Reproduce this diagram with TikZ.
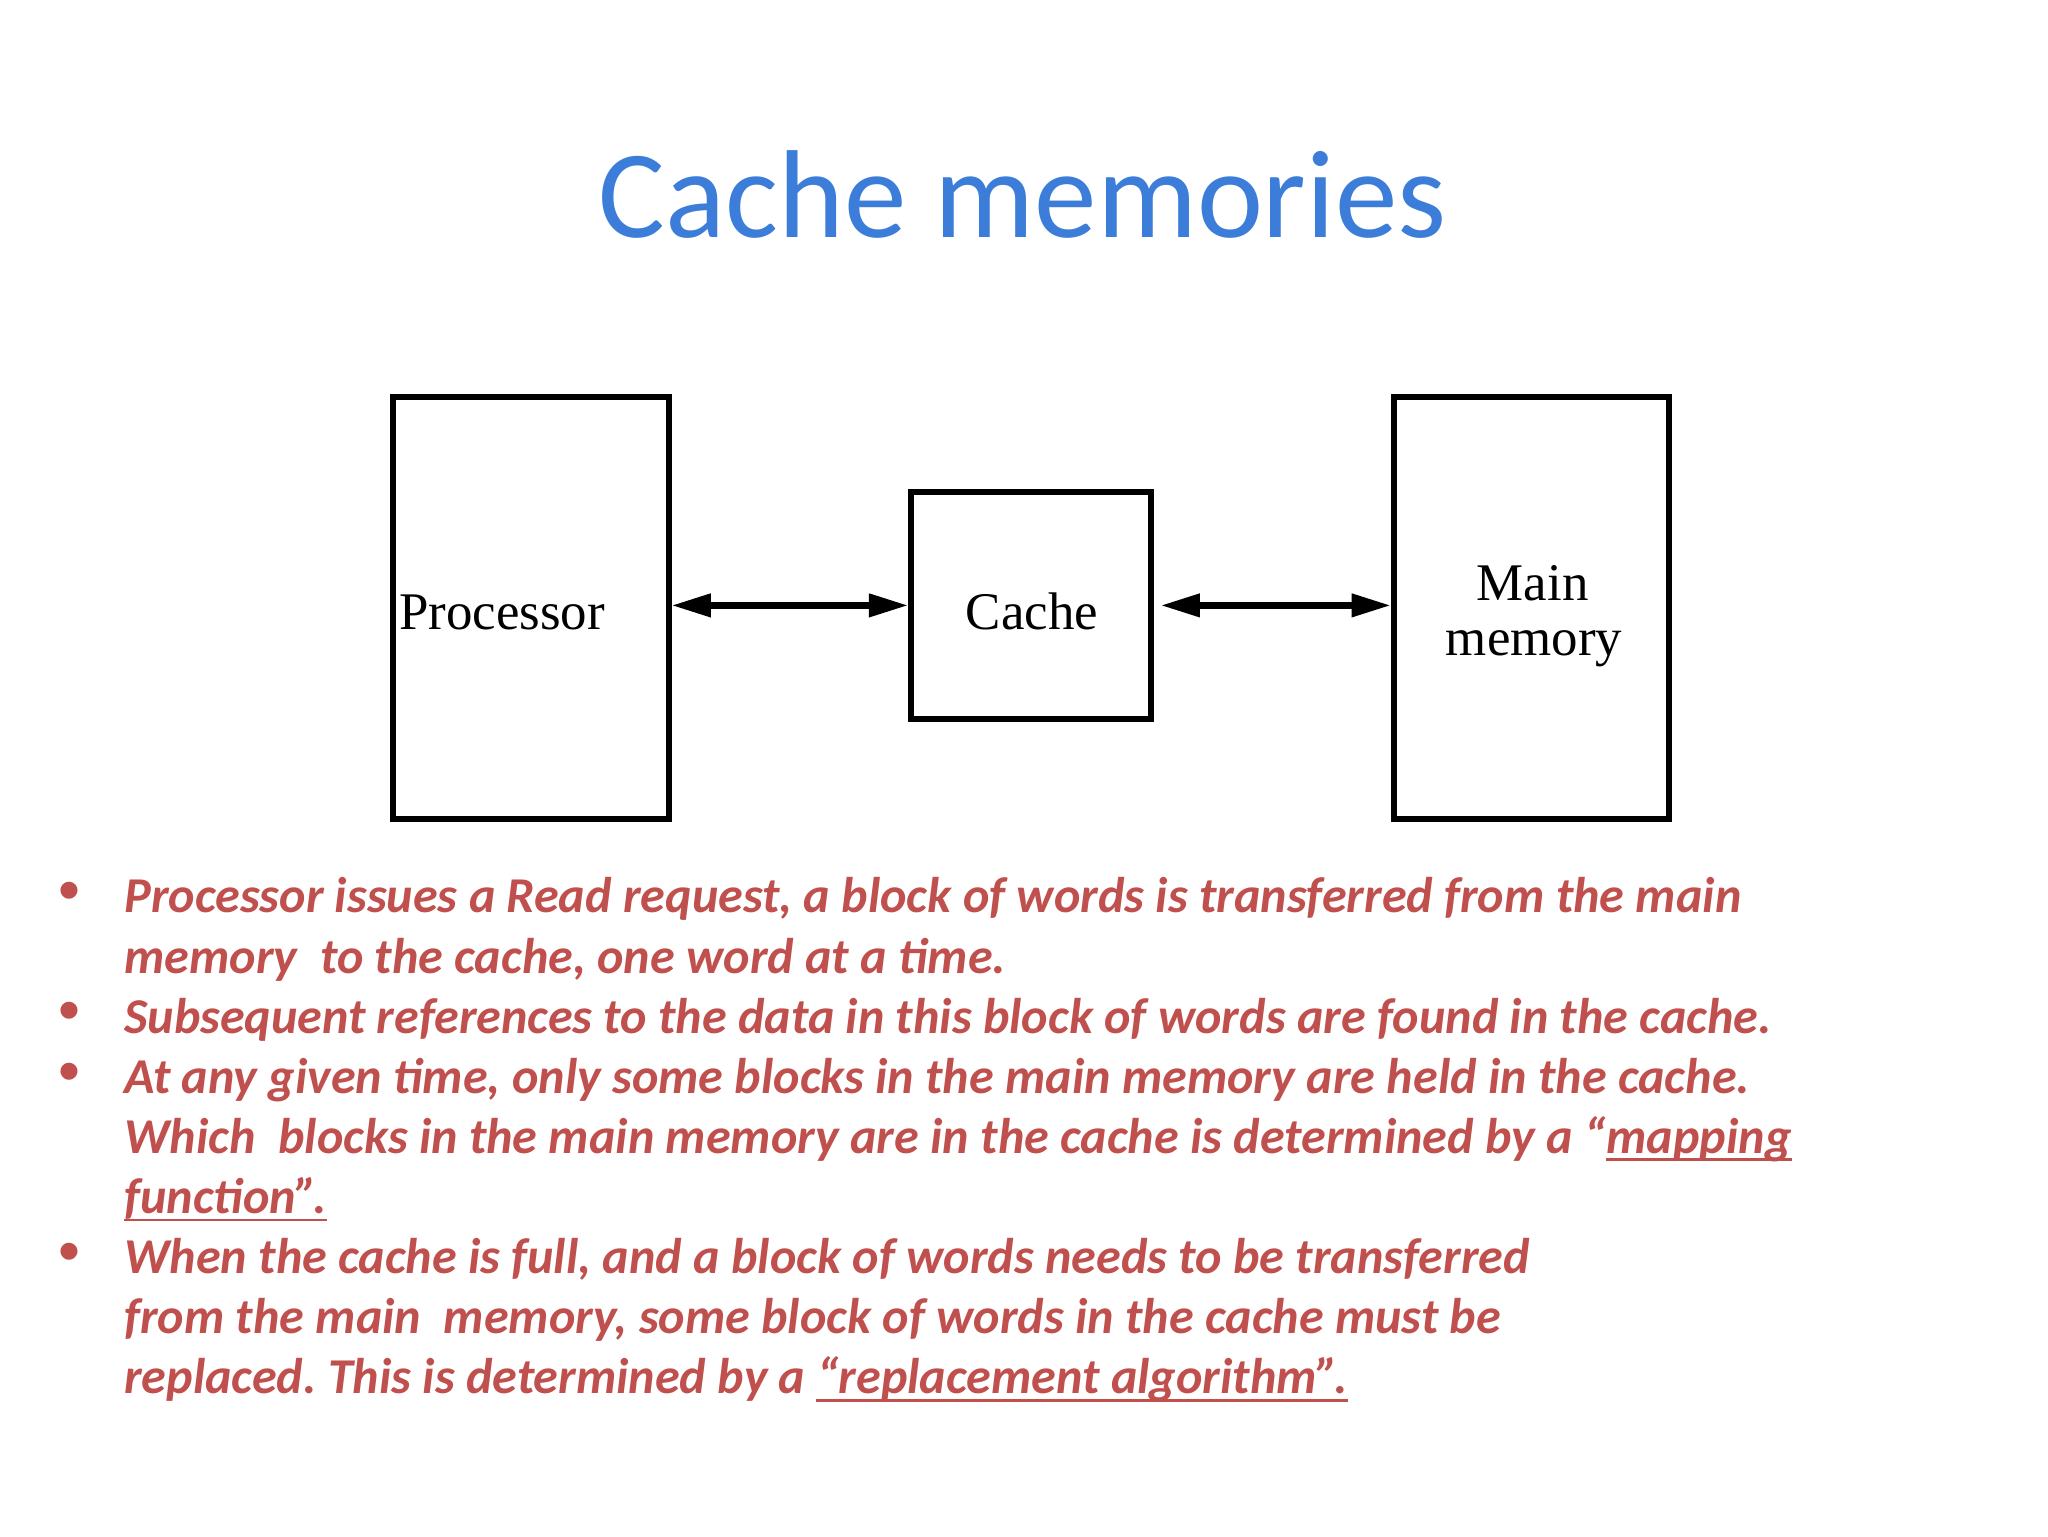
\documentclass[tikz,border=0pt]{standalone}
\usepackage{fontspec}
\usetikzlibrary{arrows.meta}
\setmainfont{Liberation Serif}
\newfontfamily\carlito{Carlito}
\newfontfamily\bulletfont{Liberation Sans}
\definecolor{titleblue}{HTML}{3B7DD8}
\definecolor{bulletred}{HTML}{C0504D}
\frenchspacing
\begin{document}
\begin{tikzpicture}[x=1pt,y=-1pt,
  blockbox/.style={draw=black,line width=4.4pt,minimum width=211pt,inner sep=0pt},
  blocklabel/.style={font=\fontsize{40.5}{42}\selectfont,inner sep=0pt},
  link/.style={line width=5pt,{Triangle[length=30pt,width=17pt]}-{Triangle[length=30pt,width=17pt]}},
  txtline/.style={anchor=base west,inner sep=0pt,text=bulletred,font=\carlito\bfseries\itshape\fontsize{38.4}{46}\selectfont},
  uline/.style={draw=bulletred,line width=2.2pt},
  bulletmark/.style={inner sep=0pt,text=bulletred,font=\bulletfont\fontsize{48}{48}\selectfont}]
\useasboundingbox[fill=white] (0,0) rectangle (1568,1176);
% title
\node[anchor=base,inner sep=0pt,text=titleblue,font=\carlito\fontsize{95.8}{115}\selectfont] (title) at (783,182) {Cache memories};
% blocks
\node[blockbox,minimum height=323pt] (proc) at (406.5,465.5) {};
\node[blockbox,minimum width=184pt,minimum height=174pt] (cache) at (789.5,463.5) {};
\node[blockbox,minimum height=323pt] (mem) at (1172.5,465.5) {};
\node[blocklabel,anchor=base west] (proclbl) at (305.5,481.6) {Processor};
\node[blocklabel,anchor=base] (cachelbl) at (790,481.6) {Cache};
\node[blocklabel,anchor=base] (memlbl1) at (1173.4,459.6) {Main};
\node[blocklabel,anchor=base] (memlbl2) at (1174.5,501.6) {memory};
% connectors
\draw[link] (proc.east |- cache.west) -- (cache.west);
\draw[link,shorten <=5pt] (cache.east) -- (mem.west |- cache.east);
% bullets
\node[bulletmark] (b1) at (53,686.9) {•};
\node[bulletmark] (b2) at (53,778.9) {•};
\node[bulletmark] (b3) at (53,824.9) {•};
\node[bulletmark] (b4) at (53,962.9) {•};
\node[txtline] (l1) at (95,699) {Processor issues a Read request, a block of words is transferred from the main};
\node[txtline] (l2) at (95,745) {memory\ \ to the cache, one word at a time.};
\node[txtline] (l3) at (95,791) {Subsequent references to the data in this block of words are found in the cache.};
\node[txtline] (l4) at (95,837) {At any given time, only some blocks in the main memory are held in the cache.};
\node[txtline] (l5) at (95,883) {Which\ \ blocks in the main memory are in the cache is determined by a “};
\node[txtline] (u5) at (l5.base east) {mapping};
\node[txtline] (l6) at (95,929) {function”.};
\node[txtline] (l7) at (95,975) {When the cache is full, and a block of words needs to be transferred};
\node[txtline] (l8) at (95,1021) {from the main\ \ memory, some block of words in the cache must be};
\node[txtline] (l9) at (95,1067) {replaced. This is determined by a};
\node[txtline] (u9) at (l9.base east) {\ “replacement algorithm”.};
% underlines
\draw[uline] ([yshift=-5pt]u5.base west) -- ([yshift=-5pt]u5.base east);
\draw[uline] ([yshift=-5pt]l6.base west) -- ([yshift=-5pt]l6.base east);
\draw[uline] ([xshift=8pt,yshift=-5pt]u9.base west) -- ([yshift=-5pt]u9.base east);
\end{tikzpicture}
\end{document}
